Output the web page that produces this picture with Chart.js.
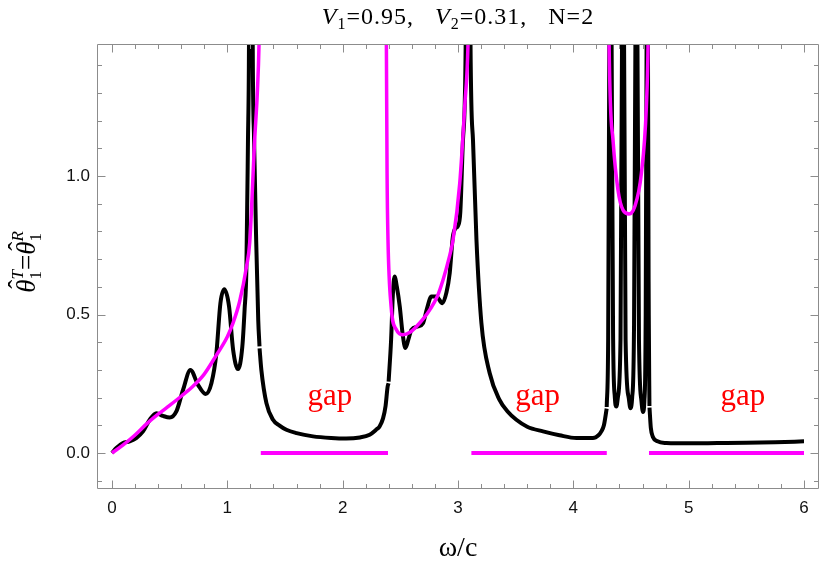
<!DOCTYPE html>
<html>
<head>
<meta charset="utf-8">
<script src="https://cdn.jsdelivr.net/npm/chart.js@4.4.1/dist/chart.umd.min.js"></script>
<style>
  html, body { margin: 0; padding: 0; background: #fff; }
  canvas { display: block; }
</style>
</head>
<body>
<canvas id="bandChart" width="822" height="566"></canvas>
<script>
// black curve, cut into pieces at the band edges
const curve1X = [0, 0.038, 0.095, 0.153, 0.21, 0.269, 0.327, 0.385, 0.442, 0.5, 0.558, 0.616, 0.68, 0.746, 0.812, 0.862, 0.905, 0.94, 0.974, 1.015, 1.05, 1.093, 1.13, 1.15, 1.165, 1.179, 1.188, 1.204, 1.22, 1.232, 1.25, 1.268, 1.279];
const curve1Y = [0, 0.018, 0.036, 0.042, 0.054, 0.078, 0.12, 0.144, 0.134, 0.128, 0.15, 0.228, 0.3, 0.246, 0.213, 0.252, 0.36, 0.541, 0.591, 0.529, 0.373, 0.303, 0.384, 0.52, 0.661, 1.13, 1.5, 4, 1.5, 1.13, 0.77, 0.48, 0.385];

const curve2X = [1.2795, 1.295, 1.339, 1.396, 1.45, 1.512, 1.6, 1.743, 1.9, 2.03, 2.15, 2.234, 2.29, 2.32, 2.35, 2.372, 2.39, 2.398];
const curve2Y = [0.378, 0.3, 0.18, 0.12, 0.1, 0.084, 0.072, 0.06, 0.054, 0.052, 0.056, 0.066, 0.084, 0.096, 0.125, 0.17, 0.24, 0.252];

const curve3X = [2.3985, 2.42, 2.435, 2.45, 2.47, 2.495, 2.52, 2.544, 2.57, 2.596, 2.653, 2.697, 2.73, 2.769, 2.813, 2.865, 2.9, 2.928, 2.955, 2.975, 3.0, 3.02, 3.043, 3.067, 3.088, 3.108, 3.13, 3.16, 3.203, 3.275, 3.36, 3.43, 3.506, 3.6, 3.737, 3.88, 4.027, 4.17, 4.22, 4.243, 4.265, 4.289];
const curve3Y = [0.258, 0.409, 0.57, 0.637, 0.6, 0.529, 0.43, 0.379, 0.41, 0.445, 0.457, 0.469, 0.52, 0.565, 0.565, 0.541, 0.58, 0.649, 0.78, 0.81, 0.82, 0.87, 1.13, 1.5, 4, 1.5, 1.13, 0.77, 0.469, 0.288, 0.192, 0.15, 0.12, 0.095, 0.078, 0.064, 0.054, 0.054, 0.065, 0.078, 0.1, 0.16];

const curve4X = [4.2893, 4.302, 4.312, 4.322, 4.332, 4.345, 4.36, 4.373, 4.386, 4.409, 4.422, 4.431, 4.44, 4.453, 4.48, 4.495, 4.51, 4.525, 4.538, 4.547, 4.556, 4.569, 4.59, 4.604, 4.616, 4.626, 4.635, 4.641, 4.647, 4.654, 4.66];
const curve4Y = [0.166, 0.41, 1.47, 4, 1.47, 0.41, 0.2, 0.168, 0.2, 0.41, 1.47, 4, 1.47, 0.41, 0.2, 0.162, 0.2, 0.41, 1.47, 4, 1.47, 0.41, 0.19, 0.148, 0.19, 0.41, 1.47, 4, 1.47, 0.5, 0.17];

const curve5X = [4.6603, 4.672, 4.69, 4.73, 4.807, 4.9, 5.0, 5.25, 5.5, 5.75, 6.0];
const curve5Y = [0.164, 0.09, 0.058, 0.042, 0.036, 0.035, 0.035, 0.036, 0.037, 0.039, 0.042];

// magenta curve inside the three bands
const band1X = [0, 0.1, 0.2, 0.3, 0.4, 0.5, 0.6, 0.7, 0.8, 0.9, 1.0, 1.05, 1.107, 1.165, 1.194, 1.237, 1.26, 1.275, 1.29];
const band1Y = [0, 0.03, 0.065, 0.105, 0.14, 0.172, 0.205, 0.24, 0.285, 0.35, 0.42, 0.47, 0.548, 0.67, 0.76, 1.13, 1.3, 1.48, 1.9];

const band2X = [2.37, 2.379, 2.385, 2.393, 2.42, 2.466, 2.523, 2.58, 2.64, 2.7, 2.755, 2.82, 2.87, 2.92, 2.957, 3.015, 3.058, 3.087, 3.1];
const band2Y = [2.0, 1.48, 1.01, 0.77, 0.529, 0.445, 0.427, 0.435, 0.457, 0.485, 0.517, 0.565, 0.625, 0.7, 0.77, 0.974, 1.25, 1.48, 1.8];

const band3X = [4.302, 4.31, 4.344, 4.387, 4.431, 4.483, 4.532, 4.59, 4.633, 4.648, 4.655];
const band3Y = [2.0, 1.48, 1.13, 0.95, 0.877, 0.863, 0.889, 1.01, 1.25, 1.48, 1.8];

// gaps drawn on the axis
const gapStart = [1.29, 3.116, 4.656];
const gapEnd = [2.393, 4.29, 6.0];
const gapLabelX = [1.89, 3.69, 5.47];
const gapLabelY = 0.2;

const xTickLabels = ['0', '1', '2', '3', '4', '5', '6'];
const yTickLabels = ['0.0', '0.5', '1.0'];

const serif = '"Liberation Serif", "DejaVu Serif", serif';
const sans = '"Liberation Sans", Arial, sans-serif';

function toPoints(xs, ys) {
    return xs.map((x, i) => ({ x: x, y: ys[i] }));
}

function blackLine(xs, ys) {
    return {
        data: toPoints(xs, ys),
        showLine: true,
        borderColor: '#000',
        borderWidth: 4,
        pointRadius: 0,
        cubicInterpolationMode: 'monotone',
        borderJoinStyle: 'round',
        order: 2
    };
}

function magentaLine(xs, ys) {
    return {
        data: toPoints(xs, ys),
        showLine: true,
        borderColor: '#ff00ff',
        borderWidth: 3.5,
        pointRadius: 0,
        cubicInterpolationMode: 'monotone',
        borderJoinStyle: 'round',
        order: 1
    };
}

function gapLine(i) {
    return {
        data: [{ x: gapStart[i], y: 0 }, { x: gapEnd[i], y: 0 }],
        showLine: true,
        borderColor: '#ff00ff',
        borderWidth: 4,
        pointRadius: 0,
        order: 0
    };
}

function near(v, step) {
    return Math.abs(v / step - Math.round(v / step)) < 1e-6;
}

// draws a row of text pieces centred on cx
function drawRuns(ctx, runs, cx, cy) {
    let total = 0;
    const widths = runs.map(r => {
        ctx.font = r.font;
        const w = ctx.measureText(r.t).width;
        if (!r.stay) total += w;
        return w;
    });
    let px = cx - total / 2;
    runs.forEach((r, i) => {
        ctx.font = r.font;
        ctx.fillText(r.t, px + (r.dx || 0), cy + (r.dy || 0));
        if (!r.stay) px += widths[i];
    });
}

const frameAndText = {
    id: 'frameAndText',
    afterDraw(chart) {
        const { ctx, chartArea: a } = chart;
        const xs = chart.scales.x;
        const ys = chart.scales.y;
        const L = Math.round(a.left) + 0.5;
        const R = Math.round(a.right) - 0.5;
        const T = Math.round(a.top) + 0.5;
        const B = Math.round(a.bottom) - 0.5;

        ctx.save();
        ctx.strokeStyle = '#8c8c8c';
        ctx.lineWidth = 1;
        ctx.beginPath();
        ctx.rect(L, T, R - L, B - T);

        xs.ticks.forEach(t => {
            const p = Math.round(xs.getPixelForValue(t.value)) + 0.5;
            const len = near(t.value, 1) ? 8 : 4.5;
            ctx.moveTo(p, B); ctx.lineTo(p, B - len);
            ctx.moveTo(p, T); ctx.lineTo(p, T + len);
        });
        ys.ticks.forEach(t => {
            const p = Math.round(ys.getPixelForValue(t.value)) + 0.5;
            const len = near(t.value, 0.5) ? 8 : 4.5;
            ctx.moveTo(L, p); ctx.lineTo(L + len, p);
            ctx.moveTo(R, p); ctx.lineTo(R - len, p);
        });
        ctx.stroke();

        // gap labels
        ctx.fillStyle = '#ff0000';
        ctx.font = '31px ' + serif;
        ctx.textAlign = 'center';
        ctx.textBaseline = 'alphabetic';
        gapLabelX.forEach(gx => {
            ctx.fillText('gap', xs.getPixelForValue(gx), ys.getPixelForValue(gapLabelY) + 7);
        });

        ctx.fillStyle = '#000';
        ctx.textAlign = 'left';
        const mid = (a.left + a.right) / 2;

        // title
        const big = '24px ' + serif;
        const bigIt = 'italic 24px ' + serif;
        const small = '16px ' + serif;
        ctx.letterSpacing = '1px';
        drawRuns(ctx, [
            { t: 'V', font: bigIt },
            { t: '1', font: small, dy: 5 },
            { t: '=0.95,   ', font: big },
            { t: 'V', font: bigIt },
            { t: '2', font: small, dy: 5 },
            { t: '=0.31,   N=2', font: big }
        ], mid, 24);
        ctx.letterSpacing = '0px';

        // x axis title
        drawRuns(ctx, [{ t: '\u03c9/c', font: '28px ' + serif }], mid, 556);

        // y axis title, read bottom to top
        ctx.save();
        ctx.translate(27, 262);
        ctx.rotate(-Math.PI / 2);
        const yl = 'italic 27px ' + serif;
        const ys1 = '17px ' + serif;
        const ys2 = 'italic 17px ' + serif;
        drawRuns(ctx, [
            { t: '\u02c6', font: '27px ' + serif, dx: 4, dy: -8, stay: true },
            { t: '\u03b8', font: yl },
            { t: '1', font: ys1, dy: 6, stay: true },
            { t: 'T', font: ys2, dy: -12 },
            { t: '=', font: '27px ' + serif },
            { t: '\u02c6', font: '27px ' + serif, dx: 4, dy: -8, stay: true },
            { t: '\u03b8', font: yl },
            { t: '1', font: ys1, dy: 6, stay: true },
            { t: 'R', font: ys2, dy: -12 }
        ], 0, 8);
        ctx.restore();

        ctx.restore();
    }
};

const ctx = document.getElementById('bandChart');

new Chart(ctx, {
    type: 'scatter',
    data: {
        datasets: [
            magentaLine(band1X, band1Y),
            magentaLine(band2X, band2Y),
            magentaLine(band3X, band3Y),
            gapLine(0),
            gapLine(1),
            gapLine(2),
            blackLine(curve1X, curve1Y),
            blackLine(curve2X, curve2Y),
            blackLine(curve3X, curve3Y),
            blackLine(curve4X, curve4Y),
            blackLine(curve5X, curve5Y)
        ]
    },
    options: {
        responsive: false,
        animation: false,
        devicePixelRatio: 1,
        layout: { padding: { top: 44, right: 3, left: 0, bottom: 0 } },
        plugins: {
            legend: { display: false },
            tooltip: { enabled: false }
        },
        scales: {
            x: {
                type: 'linear',
                min: -0.13,
                max: 6.13,
                grid: { display: false, drawTicks: false },
                border: { display: false },
                ticks: {
                    stepSize: 0.2,
                    includeBounds: false,
                    autoSkip: false,
                    maxRotation: 0,
                    padding: 9,
                    color: '#111',
                    font: { family: sans, size: 17 },
                    callback: function (value) {
                        return near(value, 1) ? xTickLabels[Math.round(value)] : '';
                    }
                },
                afterFit: function (scale) { scale.height = 77; }
            },
            y: {
                type: 'linear',
                min: -0.13,
                max: 1.477,
                grid: { display: false, drawTicks: false },
                border: { display: false },
                ticks: {
                    stepSize: 0.1,
                    includeBounds: false,
                    autoSkip: false,
                    padding: 7,
                    color: '#111',
                    font: { family: sans, size: 17 },
                    callback: function (value) {
                        return near(value, 0.5) ? yTickLabels[Math.round(value * 2)] : '';
                    }
                },
                afterFit: function (scale) { scale.width = 97; }
            }
        }
    },
    plugins: [frameAndText]
});
</script>
</body>
</html>
